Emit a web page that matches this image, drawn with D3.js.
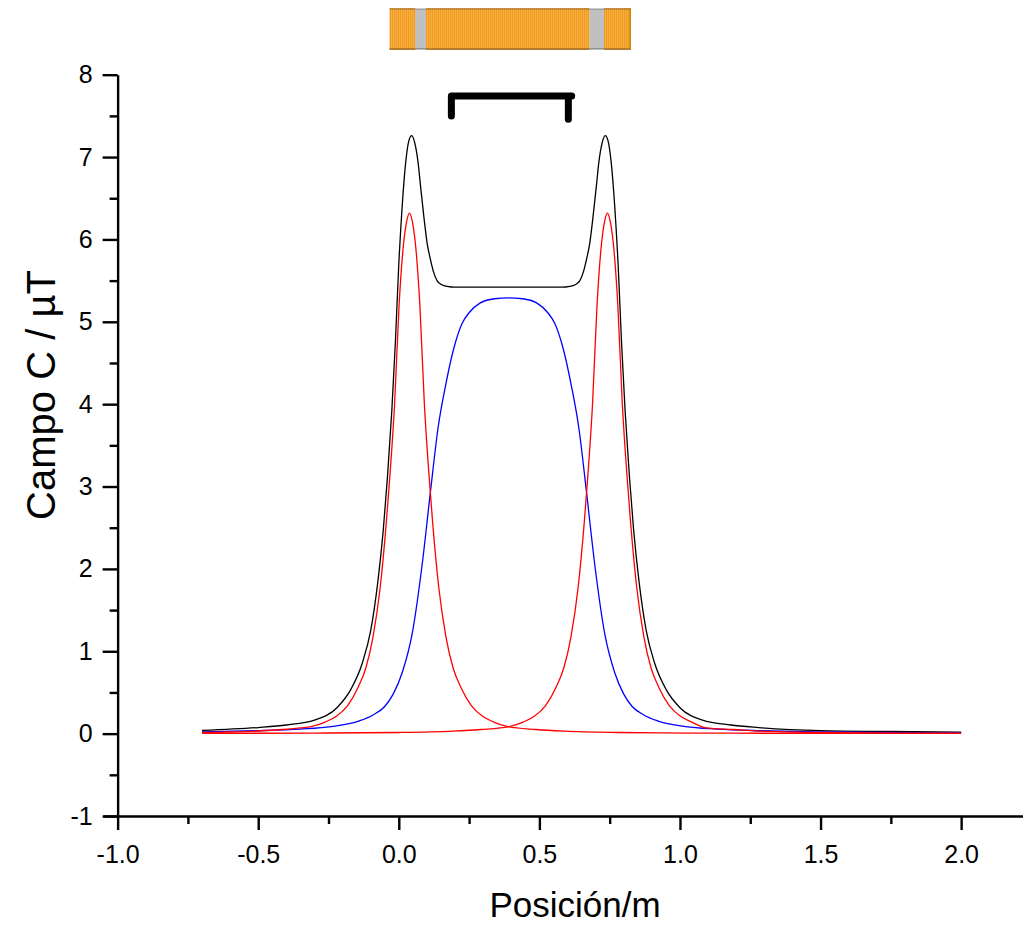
<!DOCTYPE html>
<html>
<head>
<meta charset="utf-8">
<script src="https://cdn.jsdelivr.net/npm/d3@7"></script>
<style>
  html, body { margin: 0; padding: 0; background: #fff; }
  svg { display: block; }
</style>
</head>
<body>
<div id="vis"></div>
<script>
// ---- data (x in m, field in uT) ----
var xRed1 = [-0.7, -0.6, -0.5, -0.412, -0.35, -0.312, -0.262, -0.222, -0.182, -0.145, -0.117, -0.092, -0.066, -0.044, -0.031, -0.015, 0.001, 0.017, 0.028, 0.038,
             0.048, 0.059, 0.075, 0.091, 0.107, 0.12, 0.142, 0.168, 0.193, 0.221, 0.258, 0.298, 0.338, 0.388, 0.488, 0.588, 0.778, 1.038, 1.538, 2.0];
var yRed1 = [0.014, 0.02, 0.032, 0.05, 0.07, 0.085, 0.14, 0.21, 0.34, 0.56, 0.8, 1.17, 1.78, 2.58, 3.16, 4.0, 5.2, 5.95, 6.22, 6.32,
             6.22, 5.95, 5.2, 4.0, 3.16, 2.58, 1.78, 1.17, 0.8, 0.56, 0.34, 0.21, 0.14, 0.085, 0.05, 0.03, 0.014, 0.007, 0.003, 0.002];

var xRed2 = [-0.7, -0.3, 0.0, 0.192, 0.292, 0.392, 0.442, 0.482, 0.522, 0.559, 0.587, 0.612, 0.638, 0.66, 0.673, 0.689, 0.705, 0.721, 0.732, 0.742,
             0.752, 0.763, 0.779, 0.795, 0.811, 0.824, 0.846, 0.872, 0.897, 0.925, 0.962, 1.002, 1.042, 1.092, 1.192, 1.292, 1.482, 1.742, 2.0];
var yRed2 = [0.003, 0.007, 0.014, 0.03, 0.05, 0.085, 0.14, 0.21, 0.34, 0.56, 0.8, 1.17, 1.78, 2.58, 3.16, 4.0, 5.2, 5.95, 6.22, 6.32,
             6.22, 5.95, 5.2, 4.0, 3.16, 2.58, 1.78, 1.17, 0.8, 0.56, 0.34, 0.21, 0.14, 0.07, 0.05, 0.03, 0.014, 0.007, 0.004];

var xBlue = [-0.7, -0.51, -0.35, -0.24, -0.14, -0.09, -0.05, -0.02, 0.012, 0.048, 0.083, 0.113, 0.14, 0.166, 0.195, 0.225, 0.25, 0.29, 0.34, 0.39,
             0.44, 0.49, 0.53, 0.555, 0.585, 0.614, 0.64, 0.667, 0.697, 0.732, 0.768, 0.80, 0.83, 0.87, 0.92, 1.02, 1.13, 1.29, 1.48, 1.69, 2.0];
var yBlue = [0.022, 0.035, 0.055, 0.085, 0.155, 0.23, 0.33, 0.48, 0.74, 1.22, 2.05, 2.95, 3.72, 4.22, 4.67, 4.98, 5.11, 5.23, 5.28, 5.29,
             5.28, 5.23, 5.11, 4.98, 4.67, 4.22, 3.72, 2.95, 2.05, 1.22, 0.74, 0.48, 0.33, 0.23, 0.155, 0.085, 0.055, 0.035, 0.022, 0.016, 0.01];

var xTotal = [-0.7, -0.5, -0.4, -0.3, -0.22, -0.17, -0.13, -0.1, -0.075, -0.055, -0.04, -0.025, -0.012, 0.0, 0.012, 0.025, 0.036, 0.046, 0.057, 0.068,
              0.077, 0.09, 0.101, 0.113, 0.124, 0.136, 0.148, 0.16, 0.172, 0.2, 0.25, 0.3, 0.39, 0.48, 0.53, 0.58, 0.608, 0.62, 0.632, 0.644,
              0.656, 0.667, 0.679, 0.69, 0.703, 0.712, 0.723, 0.734, 0.744, 0.755, 0.768, 0.78, 0.792, 0.805, 0.82, 0.835, 0.855, 0.88, 0.91, 0.95,
              1.0, 1.08, 1.18, 1.28, 1.5, 1.75, 2.0];
var yTotal = [0.039, 0.074, 0.105, 0.164, 0.315, 0.54, 0.855, 1.25, 1.83, 2.48, 3.13, 3.91, 4.76, 5.7, 6.4, 6.95, 7.2, 7.26, 7.17, 6.95,
              6.66, 6.25, 5.95, 5.75, 5.6, 5.5, 5.46, 5.44, 5.43, 5.42, 5.42, 5.42, 5.42, 5.42, 5.42, 5.42, 5.43, 5.44, 5.46, 5.5,
              5.6, 5.75, 5.95, 6.25, 6.66, 6.95, 7.17, 7.26, 7.2, 6.95, 6.4, 5.7, 4.76, 3.91, 3.13, 2.48, 1.83, 1.25, 0.855, 0.54,
              0.315, 0.164, 0.105, 0.074, 0.037, 0.026, 0.018];

var xTicks = [-1.0, -0.5, 0.0, 0.5, 1.0, 1.5, 2.0];
var yTicks = [-1, 0, 1, 2, 3, 4, 5, 6, 7, 8];

// coil drawing above the plot (x extents in m)
var coilX0 = [-0.033, 0.098, 0.731];
var coilX1 = [0.056, 0.677, 0.823];
var gapX0 = [0.056, 0.677];
var gapX1 = [0.098, 0.731];

// bracket
var bracketX = [0.187, 0.187, 0.615, 0.603, 0.603];
var bracketY = [7.50, 7.74, 7.74, 7.74, 7.46];

var width = 1023, height = 927;
var svg = d3.select("#vis").append("svg")
    .attr("width", width)
    .attr("height", height);

var x = d3.scaleLinear().domain([-1.052, 2.22]).range([103, 1023]);
var y = d3.scaleLinear().domain([-1, 8]).range([816, 74.7]);

var font = "'Liberation Sans', Arial, Helvetica, sans-serif";

// plain hyphen instead of the unicode minus d3 uses
function fmt(spec) {
    var f = d3.format(spec);
    return function (d) { return f(d).replace("\u2212", "-"); };
}

// ---- axes ----
svg.append("g")
    .attr("transform", "translate(0," + y(-1) + ")")
    .call(d3.axisBottom(x).tickValues(xTicks).tickSize(14).tickSizeOuter(0).tickPadding(15)
        .tickFormat(fmt(".1f")));

var xMinor = svg.append("g")
    .attr("transform", "translate(0," + y(-1) + ")")
    .call(d3.axisBottom(x).tickValues([-0.75, -0.25, 0.25, 0.75, 1.25, 1.75]).tickSize(8).tickSizeOuter(0).tickFormat(""));
xMinor.select(".domain").remove();

svg.append("g")
    .attr("transform", "translate(" + x(-1) + ",0)")
    .call(d3.axisLeft(y).tickValues(yTicks).tickSize(15).tickSizeOuter(0).tickPadding(10)
        .tickFormat(fmt("d")));

var yMinor = svg.append("g")
    .attr("transform", "translate(" + x(-1) + ",0)")
    .call(d3.axisLeft(y).tickValues([-0.5, 0.5, 1.5, 2.5, 3.5, 4.5, 5.5, 6.5, 7.5]).tickSize(8).tickSizeOuter(0).tickFormat(""));
yMinor.select(".domain").remove();

svg.selectAll(".domain").attr("stroke", "#000").attr("stroke-width", 2.4);
svg.selectAll(".tick line").attr("stroke", "#000").attr("stroke-width", 2.4);
svg.selectAll(".tick text")
    .style("font-family", font)
    .attr("font-size", "25px")
    .attr("fill", "#000");

// axis titles
svg.append("text")
    .attr("x", 575)
    .attr("y", 917)
    .attr("text-anchor", "middle")
    .style("font-family", font)
    .attr("font-size", "35px")
    .text("Posición/m");

svg.append("text")
    .attr("transform", "translate(55,395) rotate(-90)")
    .attr("text-anchor", "middle")
    .style("font-family", font)
    .attr("font-size", "40px")
    .text("Campo C / µT");

// ---- curves ----
function makeLine(xs, ys) {
    return d3.line()
        .x(function (d, i) { return x(xs[i]); })
        .y(function (d, i) { return y(ys[i]); })
        .curve(d3.curveMonotoneX)(xs);
}

svg.append("path").attr("d", makeLine(xTotal, yTotal))
    .attr("fill", "none").attr("stroke", "#000000").attr("stroke-width", 1.3);
svg.append("path").attr("d", makeLine(xBlue, yBlue))
    .attr("fill", "none").attr("stroke", "#0000ff").attr("stroke-width", 1.3);
svg.append("path").attr("d", makeLine(xRed1, yRed1))
    .attr("fill", "none").attr("stroke", "#ff0000").attr("stroke-width", 1.3);
svg.append("path").attr("d", makeLine(xRed2, yRed2))
    .attr("fill", "none").attr("stroke", "#ff0000").attr("stroke-width", 1.3);

// ---- bracket ----
svg.append("path")
    .attr("d", d3.line()
        .x(function (d, i) { return x(bracketX[i]); })
        .y(function (d, i) { return y(bracketY[i]); })(bracketX))
    .attr("fill", "none")
    .attr("stroke", "#000")
    .attr("stroke-width", 7)
    .attr("stroke-linecap", "round")
    .attr("stroke-linejoin", "round");

// ---- coil sketch ----
var barTop = 9, barBot = 49;
var coil = svg.append("g");

gapX0.forEach(function (g, i) {
    coil.append("rect")
        .attr("x", x(g)).attr("y", barTop)
        .attr("width", x(gapX1[i]) - x(g)).attr("height", barBot - barTop)
        .attr("fill", "#c0c0c0");
});

coilX0.forEach(function (c, i) {
    var x0 = x(c), x1 = x(coilX1[i]);
    coil.append("rect")
        .attr("x", x0).attr("y", barTop - 1)
        .attr("width", x1 - x0).attr("height", barBot - barTop + 2)
        .attr("fill", "#e6b060");
    coil.selectAll(null)
        .data(d3.range(Math.round(x0) + 0.5, x1, 2))
        .enter().append("line")
        .attr("x1", function (d) { return d; })
        .attr("x2", function (d) { return d; })
        .attr("y1", barTop - 1).attr("y2", barBot + 1)
        .attr("stroke", "#ff9a00")
        .attr("stroke-width", 1);
});

coil.append("line")
    .attr("x1", x(coilX0[0])).attr("x2", x(coilX1[2]))
    .attr("y1", barTop).attr("y2", barTop)
    .attr("stroke", "#555").attr("stroke-width", 1).attr("opacity", 0.6);
coil.append("line")
    .attr("x1", x(coilX0[0])).attr("x2", x(coilX1[2]))
    .attr("y1", barBot).attr("y2", barBot)
    .attr("stroke", "#222").attr("stroke-width", 1).attr("opacity", 0.6);
coil.append("line")
    .attr("x1", x(coilX1[2])).attr("x2", x(coilX1[2]))
    .attr("y1", barTop - 1).attr("y2", barBot + 1)
    .attr("stroke", "#c87d10").attr("stroke-width", 1.5);
</script>
</body>
</html>
